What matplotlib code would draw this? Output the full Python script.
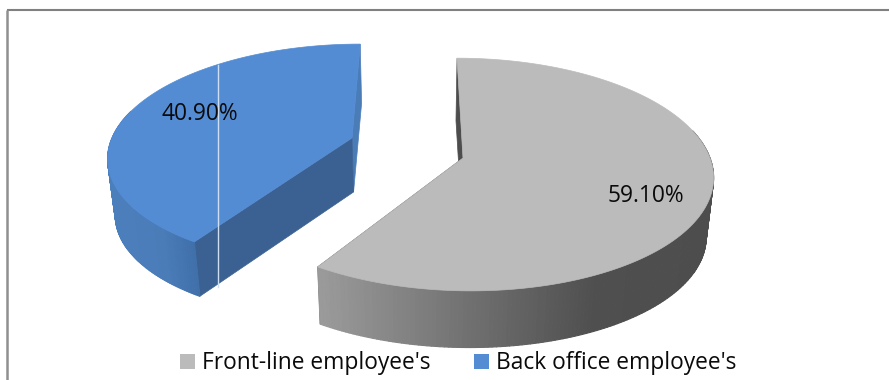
import numpy as np
import matplotlib
matplotlib.use('Agg')
import matplotlib.pyplot as plt
from matplotlib.collections import PolyCollection
from matplotlib.colors import LinearSegmentedColormap
from matplotlib.patches import Polygon, Rectangle

labels = ["Front-line employee's", "Back office employee's"]
shares = [59.1, 40.9]
value_text = ['59.10%', '40.90%']
top_colors = ['#bbbbbb', '#548cd4']

plt.rcParams['font.family'] = ['Open Sans', 'DejaVu Sans']

W, H = 889, 380
fig = plt.figure(figsize=(W / 100, H / 100), dpi=100)
ax = fig.add_axes([0, 0, 1, 1])
ax.set_xlim(0, W)
ax.set_ylim(H, 0)
ax.axis('off')

# the fake 3d: circle is seen in perspective, x shrinks towards vanish_x at the back
vanish_x = 415
start_angle = 0
bottom_scale = 0.975

geom = [
    {'cx': 463, 'cy': 158, 'a': 247, 'b': 114, 'k': 0.142, 'h': 60},
    {'cx': 352, 'cy': 138, 'a': 240, 'b': 108, 'k': 0.15, 'h': 57},
]
wall_cmaps = [
    LinearSegmentedColormap.from_list('g', [(0, '#9a9a9a'), (0.4, '#6e6e6e'), (0.7, '#4f4f4f'), (1, '#4d4d4d')]),
    LinearSegmentedColormap.from_list('b', [(0, '#4b7fbc'), (0.6, '#4a7cb8'), (1, '#3f6ea8')]),
]
wall_range = [(323, 715), (107, 199)]
# first and last cut of each slice
cut_colors = [('#4d4d4d', '#4d4d4d'), ('#3b6192', '#4a7cb8')]


def project(g, deg):
    t = np.radians(deg)
    u, v = np.sin(t), np.cos(t)
    d = 1 + g['k'] * v
    x = vanish_x + (g['cx'] - vanish_x + g['a'] * u) / d
    y = g['cy'] - g['b'] * v / d
    return x, y


def drop(g, x, y):
    # same point on the bottom face of the disc
    xb = vanish_x + (x - vanish_x) * bottom_scale
    yb = g['cy'] + g['h'] + (y - g['cy']) * bottom_scale
    return xb, yb


edges = start_angle + np.cumsum([0] + shares) * 3.6

for i, g in enumerate(geom):
    deg = np.linspace(edges[i], edges[i + 1], 240)
    x, y = project(g, deg)
    xb, yb = drop(g, x, y)
    cx, cy = g['cx'], g['cy']
    cxb, cyb = drop(g, cx, cy)

    # walls along the cut, the back one first so the front one lies over it
    order = [(-1, 1), (0, 0)] if i == 1 else [(0, 0), (-1, 1)]
    for j, c in order:
        quad = [(cx, cy), (x[j], y[j]), (xb[j], yb[j]), (cxb, cy + g['h'] - 3)]
        ax.add_patch(Polygon(quad, closed=True, fc=cut_colors[i][c], ec=cut_colors[i][c], lw=0.5, zorder=2))

    # rim with its gradient, thin quads, only the part that faces us
    quads, cols = [], []
    lo, hi = wall_range[i]
    for n in range(len(deg) - 1):
        if np.cos(np.radians(deg[n])) > 0.25:
            continue
        quads.append([(x[n], y[n]), (x[n + 1], y[n + 1]), (xb[n + 1], yb[n + 1]), (xb[n], yb[n])])
        cols.append(wall_cmaps[i](np.clip((x[n] - lo) / (hi - lo), 0, 1)))
    ax.add_collection(PolyCollection(quads, facecolors=cols, edgecolors=cols, linewidths=0.8, zorder=3))

    # top face
    top = np.column_stack([np.r_[cx, x], np.r_[cy, y]])
    ax.add_patch(Polygon(top, closed=True, fc=top_colors[i], ec=top_colors[i], lw=0.5, zorder=4))

# stray light line in the blue slice
ax.plot([217.5, 217.5], [65, 287], color='#cfdff2', lw=1, zorder=5)

ax.text(646, 196, value_text[0], fontsize=16.4, color='#0a0a0a', ha='center', va='center', zorder=6)
ax.text(200, 114, value_text[1], fontsize=16.4, color='#0a0a0a', ha='center', va='center', zorder=6)

# frame, only top and left show
ax.plot([7, W], [9.5, 9.5], color='#808080', lw=1.5, zorder=1, solid_capstyle='butt')
ax.plot([7, 7], [9.5, H], color='#909090', lw=1.8, zorder=1, solid_capstyle='butt')

# legend
for lab, col, mx, tx in zip(labels, top_colors, [180, 474], [202, 496]):
    ax.add_patch(Rectangle((mx, 354), 15, 15, fc=col, ec='none', zorder=6))
    ax.text(tx, 363, lab, fontsize=16.4, color='#0a0a0a', ha='left', va='center', zorder=6)

fig.savefig('out.png', dpi=100)
